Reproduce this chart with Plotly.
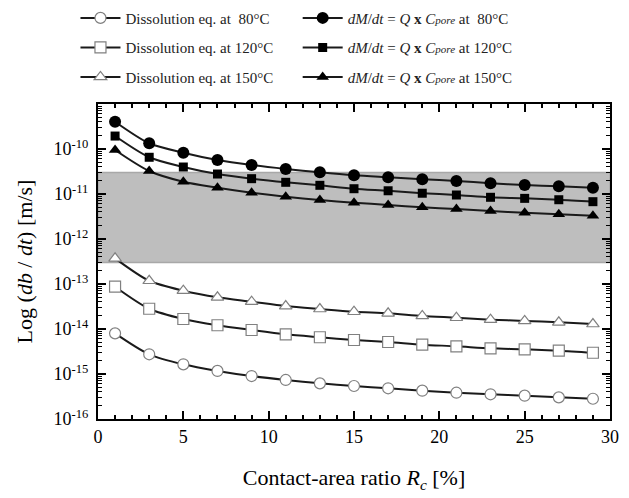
import plotly.graph_objects as go

# Contact-area ratio Rc [%]
rc = [1, 3, 5, 7, 9, 11, 13, 15, 17, 19, 21, 23, 25, 27, 29]

# Dissolution-equilibrium rates db/dt [m/s]
diss_80 = [8.0e-15, 2.74e-15, 1.64e-15, 1.17e-15, 9.0e-16, 7.37e-16, 6.2e-16, 5.41e-16,
           4.81e-16, 4.26e-16, 3.84e-16, 3.54e-16, 3.30e-16, 3.03e-16, 2.82e-16]
diss_120 = [8.7e-14, 2.82e-14, 1.67e-14, 1.21e-14, 9.5e-15, 7.62e-15, 6.55e-15, 5.70e-15,
            5.14e-15, 4.48e-15, 4.13e-15, 3.72e-15, 3.54e-15, 3.30e-15, 2.97e-15]
diss_150 = [3.72e-13, 1.18e-13, 7.1e-14, 5.06e-14, 4.05e-14, 3.24e-14, 2.78e-14, 2.42e-14,
            2.23e-14, 1.95e-14, 1.78e-14, 1.61e-14, 1.51e-14, 1.41e-14, 1.29e-14]

# Flux-based rates dM/dt = Q x Cpore [m/s]
flux_80 = [4.04e-10, 1.34e-10, 8.28e-11, 5.70e-11, 4.41e-11, 3.60e-11, 3.03e-11, 2.61e-11,
           2.35e-11, 2.12e-11, 1.95e-11, 1.73e-11, 1.58e-11, 1.48e-11, 1.38e-11]
flux_120 = [1.94e-10, 6.55e-11, 3.98e-11, 2.78e-11, 2.19e-11, 1.82e-11, 1.56e-11, 1.31e-11,
            1.18e-11, 1.04e-11, 9.5e-12, 8.45e-12, 8.0e-12, 7.46e-12, 6.75e-12]
flux_150 = [9.5e-11, 3.24e-11, 1.87e-11, 1.38e-11, 1.07e-11, 8.7e-12, 7.36e-12, 6.41e-12,
            5.71e-12, 5.06e-12, 4.65e-12, 4.19e-12, 3.84e-12, 3.54e-12, 3.30e-12]

# Observed range (shaded band)
band_x = [0, 30]
band_y = [3.0e-13, 3.0e-11]

y_tickvals = [1e-16, 1e-15, 1e-14, 1e-13, 1e-12, 1e-11, 1e-10]
y_ticktext = ["10<sup>-16</sup>", "10<sup>-15</sup>", "10<sup>-14</sup>", "10<sup>-13</sup>",
              "10<sup>-12</sup>", "10<sup>-11</sup>", "10<sup>-10</sup>"]
decade_exps = [-16, -15, -14, -13, -12, -11, -10]
y_minorvals = [m * 10.0 ** e for e in decade_exps for m in range(2, 10)]

SERIF = "Liberation Serif"
LINE = "#1a1a1a"
OPEN_EDGE = "#808080"

fig = go.Figure()

# shaded band, drawn first so the curves sit on top
fig.add_trace(go.Scatter(
    x=[band_x[0], band_x[1], band_x[1], band_x[0], band_x[0]],
    y=[band_y[0], band_y[0], band_y[1], band_y[1], band_y[0]],
    mode="lines", fill="toself", fillcolor="#bebebe",
    line=dict(color="#a8a8a8", width=1.5),
    hoverinfo="skip", showlegend=False))

open_series = [
    ("Dissolution eq. at  80°C", diss_80, "circle"),
    ("Dissolution eq. at 120°C", diss_120, "square"),
    ("Dissolution eq. at 150°C", diss_150, "triangle-up"),
]
for i, (name, ys, sym) in enumerate(open_series):
    fig.add_trace(go.Scatter(
        x=rc, y=ys, name=name, mode="lines+markers",
        line=dict(color=LINE, width=2, shape="spline", smoothing=0.8),
        marker=dict(symbol=sym, size=11, color="white",
                    line=dict(color=OPEN_EDGE, width=1.2)),
        legend="legend", legendgroup=f"d{i}"))

cpore = "<i>C<span style='font-size:11px'>pore</span></i>"
flux_series = [
    (f"<i>dM</i>/<i>dt</i> = <i>Q</i> <b>x</b> {cpore} at  80°C", flux_80, "circle", 12),
    (f"<i>dM</i>/<i>dt</i> = <i>Q</i> <b>x</b> {cpore} at 120°C", flux_120, "square", 9),
    (f"<i>dM</i>/<i>dt</i> = <i>Q</i> <b>x</b> {cpore} at 150°C", flux_150, "triangle-up", 11),
]
for i, (name, ys, sym, sz) in enumerate(flux_series):
    fig.add_trace(go.Scatter(
        x=rc, y=ys, name=name, mode="lines+markers",
        line=dict(color=LINE, width=2, shape="spline", smoothing=0.8),
        marker=dict(symbol=sym, size=sz, color="black", line=dict(color="black", width=0)),
        legend="legend2", legendgroup=f"f{i}"))

axis_common = dict(
    showline=True, linecolor="black", linewidth=2, mirror="ticks",
    ticks="inside", tickcolor="black", tickwidth=1.5,
    showgrid=False, zeroline=False,
    tickfont=dict(family=SERIF, size=18, color="black"),
)

fig.update_xaxes(
    range=[0, 30], dtick=5, ticklen=8,
    minor=dict(dtick=1, ticks="inside", ticklen=4, tickcolor="black", tickwidth=1.5),
    title=dict(text="Contact-area ratio <i>R</i><sub><i>c</i></sub> [%]",
               font=dict(family=SERIF, size=22, color="black"), standoff=24),
    **axis_common)

fig.update_yaxes(
    type="log", range=[-16, -9],
    tickmode="array", tickvals=y_tickvals, ticktext=y_ticktext, ticklen=8,
    ticklabelstandoff=4,
    minor=dict(tickmode="array", tickvals=y_minorvals, ticks="inside", ticklen=4,
               tickcolor="black", tickwidth=1.2),
    title=dict(text="Log (<i>db</i> / <i>dt</i>) [m/s]",
               font=dict(family=SERIF, size=22, color="black"), standoff=15),
    **axis_common)

legend_common = dict(
    yanchor="top", y=1.325, xanchor="left",
    bgcolor="rgba(0,0,0,0)", borderwidth=0,
    font=dict(family=SERIF, size=15, color="#222"),
    tracegroupgap=7, itemwidth=40,
)

fig.update_layout(
    width=629, height=498,
    margin=dict(l=98, r=19, t=104, b=79, autoexpand=False),
    paper_bgcolor="white", plot_bgcolor="white",
    showlegend=True,
    legend=dict(x=-0.044, **legend_common),
    legend2=dict(x=0.39, **legend_common),
)

fig.write_html("out.html")
